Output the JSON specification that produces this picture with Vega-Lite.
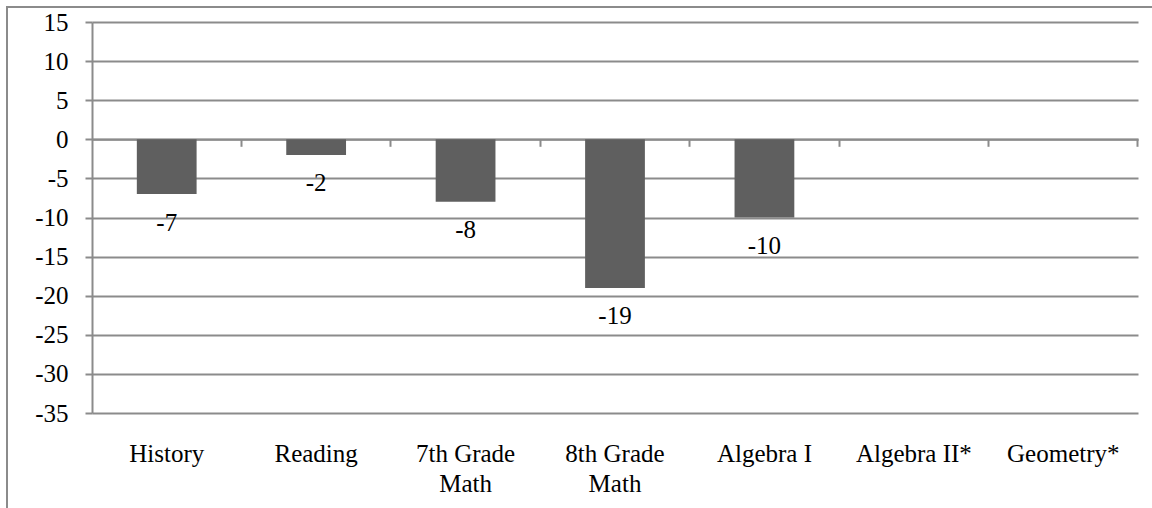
{
  "$schema": "https://vega.github.io/schema/vega-lite/v6.json",
  "autosize": "none",
  "padding": {"left": 7, "top": 7, "right": -2, "bottom": -2},
  "width": 1147,
  "height": 503,
  "background": "white",
  "config": {
    "font": "Liberation Serif",
    "view": {"stroke": "#8b8b8b", "strokeWidth": 2, "fill": "white"},
    "locale": {
      "number": {"decimal": ".", "thousands": ",", "grouping": [3], "currency": ["$", ""], "minus": "-"}
    },
    "axis": {
      "domainColor": "#8b8b8b",
      "domainWidth": 2,
      "tickColor": "#8b8b8b",
      "tickWidth": 2,
      "gridColor": "#8b8b8b",
      "gridWidth": 2,
      "labelColor": "#000000",
      "labelFont": "Liberation Serif",
      "labelFontSize": 25,
      "title": null
    }
  },
  "data": {
    "values": [
      {"subject": "History", "value": -7},
      {"subject": "Reading", "value": -2},
      {"subject": "7th Grade Math", "value": -8},
      {"subject": "8th Grade Math", "value": -19},
      {"subject": "Algebra I", "value": -10},
      {"subject": "Algebra II*", "value": null},
      {"subject": "Geometry*", "value": null}
    ]
  },
  "encoding": {
    "y": {
      "field": "value",
      "type": "quantitative",
      "scale": {"domain": [-35, 15], "range": [406, 15], "nice": false, "zero": false},
      "axis": {
        "values": [-35, -30, -25, -20, -15, -10, -5, 0, 5, 10, 15],
        "offset": -85,
        "grid": true,
        "domain": true,
        "ticks": true,
        "tickSize": 7,
        "labelPadding": 17
      }
    }
  },
  "layer": [
    {
      "mark": {"type": "bar", "color": "#5f5f5f"},
      "encoding": {
        "x": {
          "field": "subject",
          "type": "nominal",
          "sort": null,
          "scale": {
            "domain": ["History", "Reading", "7th Grade Math", "8th Grade Math", "Algebra I", "Algebra II*", "Geometry*"],
            "range": [85, 1131],
            "paddingInner": 0.6,
            "paddingOuter": 0.3
          },
          "axis": {
            "orient": "bottom",
            "offset": -97,
            "domain": false,
            "ticks": false,
            "tickSize": 0,
            "grid": false,
            "labelAngle": 0,
            "labelPadding": 28,
            "labelLineHeight": 30,
            "labelOverlap": false,
            "labelExpr": "datum.label == '7th Grade Math' || datum.label == '8th Grade Math' ? [slice(datum.label, 0, 9), 'Math'] : datum.label"
          }
        }
      }
    },
    {
      "mark": {"type": "text", "baseline": "middle", "align": "center", "dy": 28.5, "fontSize": 25, "font": "Liberation Serif", "color": "#000000"},
      "encoding": {
        "x": {
          "field": "subject",
          "type": "nominal",
          "sort": null,
          "axis": {
            "orient": "bottom",
            "offset": -370.7,
            "bandPosition": 1.75,
            "labels": false,
            "domain": true,
            "ticks": true,
            "tickSize": 7,
            "grid": false
          }
        },
        "text": {"field": "value", "type": "quantitative"}
      }
    }
  ],
  "resolve": {"axis": {"x": "independent"}}
}
